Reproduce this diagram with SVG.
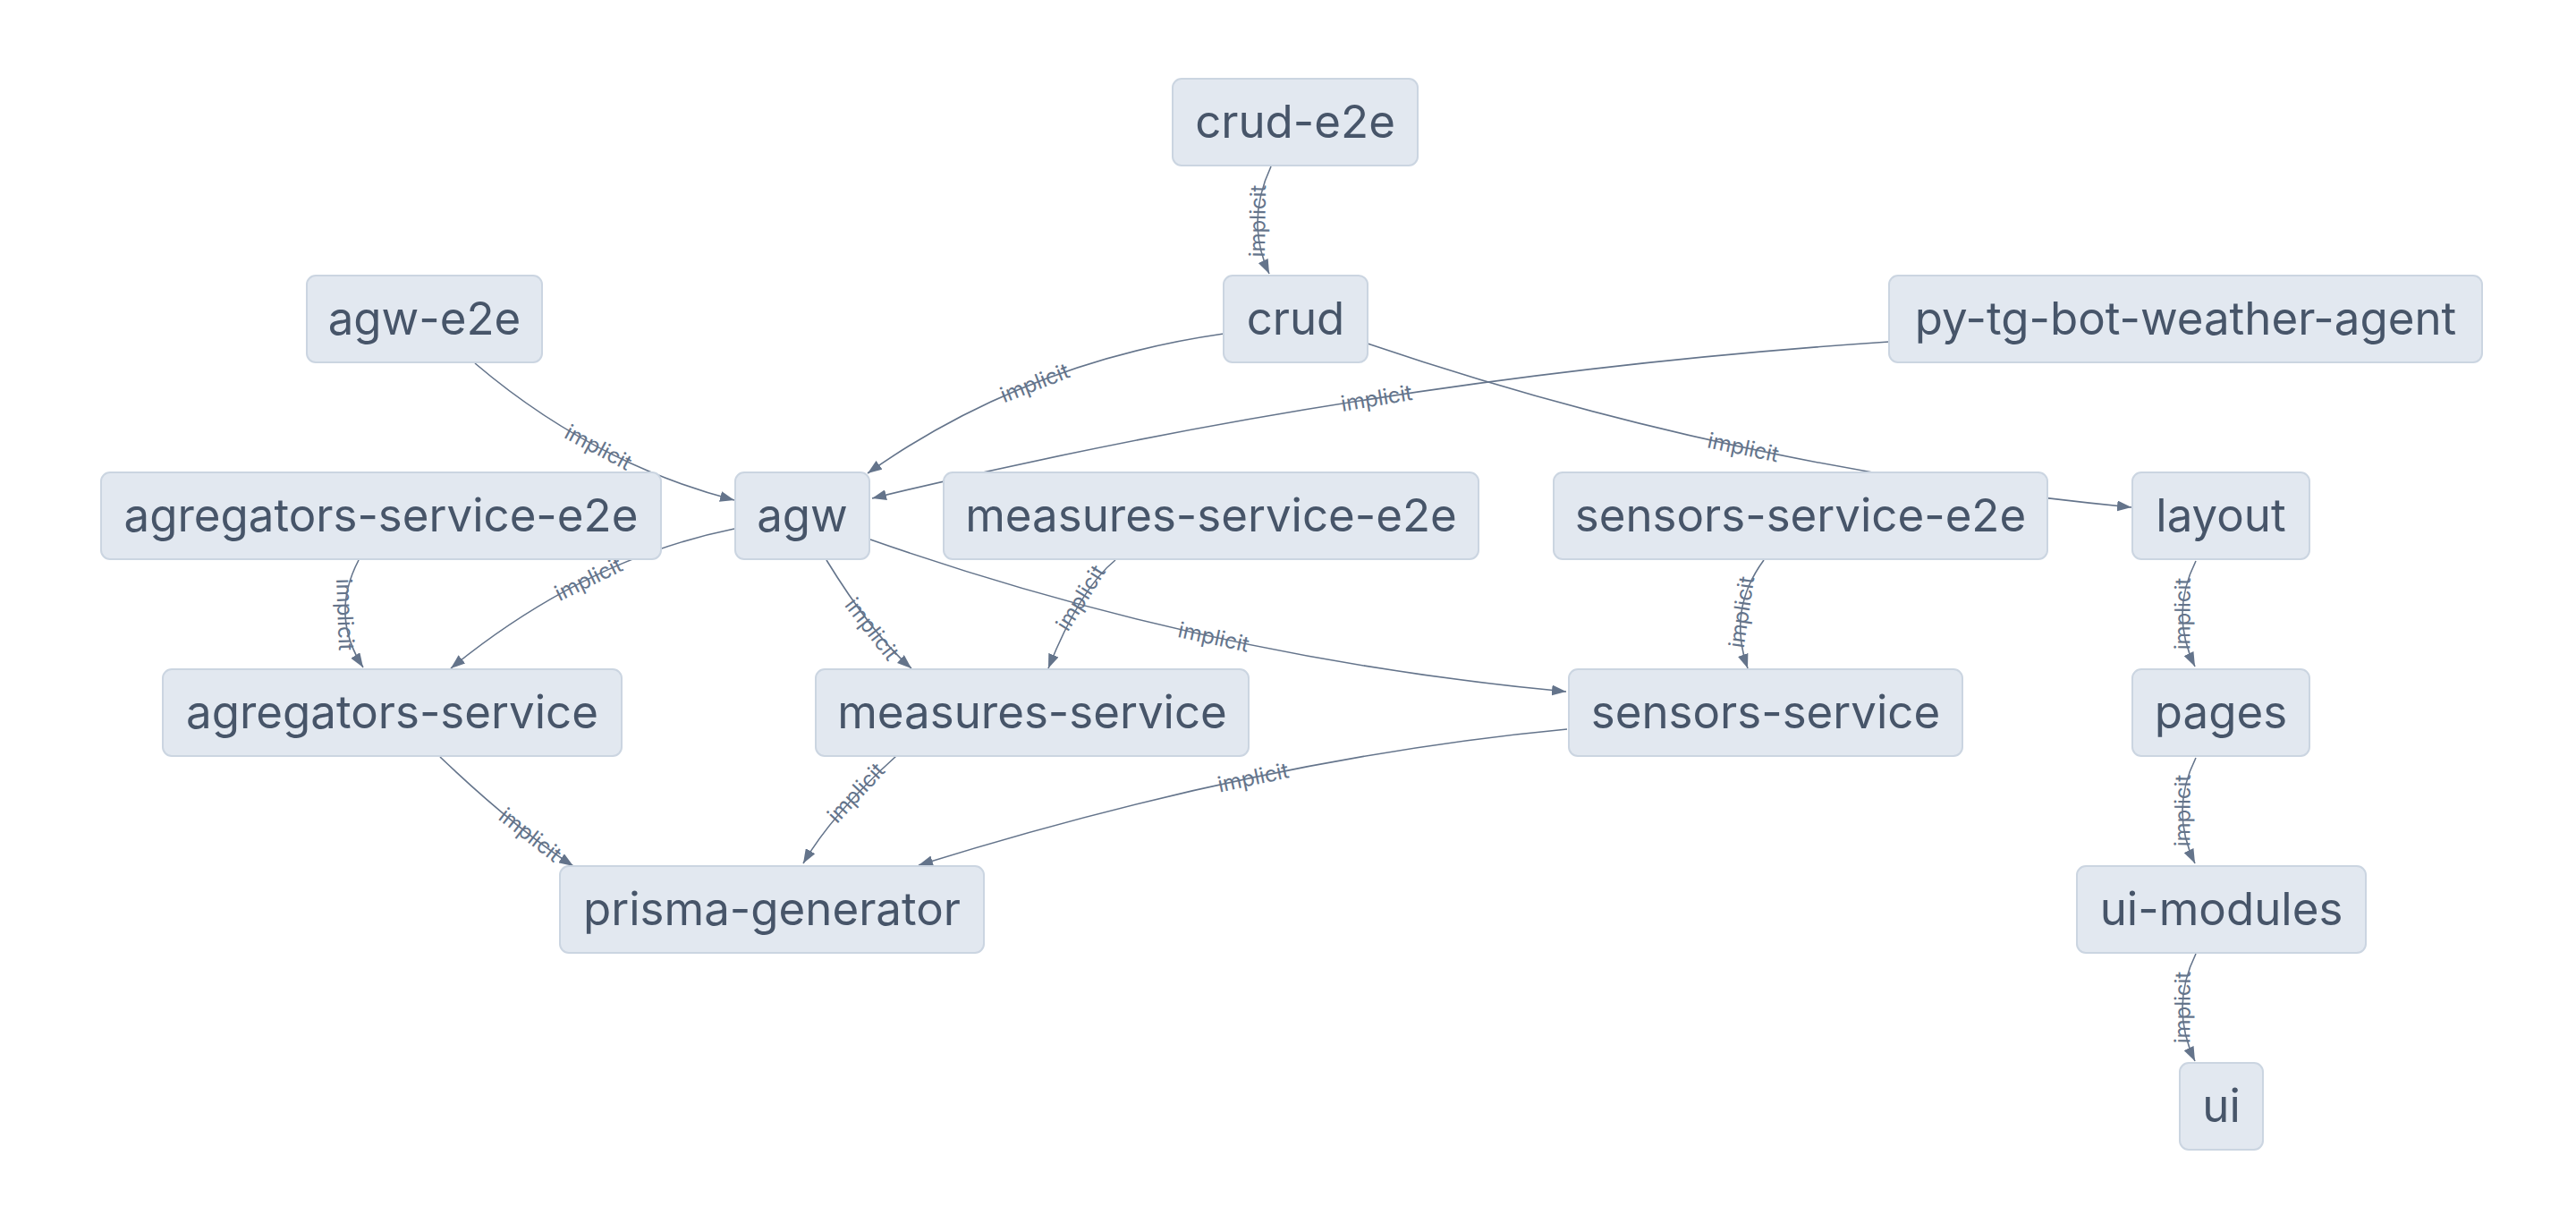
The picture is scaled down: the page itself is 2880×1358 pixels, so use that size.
<svg xmlns="http://www.w3.org/2000/svg" width="2880" height="1358" viewBox="0 0 2880 1358">
<style>
.bg{fill:#ffffff}
.node rect{fill:#e2e8f0;stroke:#cbd5e1;stroke-width:2}
.node text{font-family:Inter,"Noto Sans",sans-serif;font-size:51px;fill:#475569;text-anchor:middle}
.edge{fill:none;stroke:#64748b;stroke-width:1.6;marker-end:url(#arrow)}
.elabel{font-family:Inter,"Noto Sans",sans-serif;font-size:24px;fill:#64748b;text-anchor:middle;dominant-baseline:central}
</style>
<defs>
<marker id="arrow" markerUnits="userSpaceOnUse" markerWidth="16" markerHeight="12" refX="16" refY="6" orient="auto">
<path d="M0,0 L16,6 L0,12 z" fill="#64748b"/>
</marker>
</defs>
<rect class="bg" x="0" y="0" width="2880" height="1358"/>
<g id="connectors">
<path class="edge" d="M1421,186 Q1392,248 1419,306"/>
<text class="elabel" transform="translate(1406,247) rotate(-89)">implicit</text>
<path class="edge" d="M531,406 Q662,517.5 821,559"/>
<text class="elabel" transform="translate(669,500) rotate(27.8)">implicit</text>
<path class="edge" d="M1368,373 Q1145,405 970,529"/>
<text class="elabel" transform="translate(1157,428) rotate(-21.4)">implicit</text>
<path class="edge" d="M2112,382 Q1534.5,420.5 975,557"/>
<text class="elabel" transform="translate(1539,445) rotate(-9.5)">implicit</text>
<path class="edge" d="M1529,384 Q1942,524.5 2383,567"/>
<text class="elabel" transform="translate(1949,500) rotate(12)">implicit</text>
<path class="edge" d="M973,603 Q1352,736 1751,773"/>
<text class="elabel" transform="translate(1357,712) rotate(12.3)">implicit</text>
<path class="edge" d="M821,591 Q653.5,625 504,747"/>
<text class="elabel" transform="translate(658,647) rotate(-26)">implicit</text>
<path class="edge" d="M401,626 Q368.5,688 406,746"/>
<text class="elabel" transform="translate(386,687) rotate(88)">implicit</text>
<path class="edge" d="M924,626 Q975,709 1019,747"/>
<text class="elabel" transform="translate(975,703) rotate(52)">implicit</text>
<path class="edge" d="M1247,626 Q1207.6,657.5 1172,747"/>
<text class="elabel" transform="translate(1208,668) rotate(-58)">implicit</text>
<path class="edge" d="M492,846 Q575,925 641,968"/>
<text class="elabel" transform="translate(593,933) rotate(38)">implicit</text>
<path class="edge" d="M1002,845 Q930,910 898,965"/>
<text class="elabel" transform="translate(957,886) rotate(-47)">implicit</text>
<path class="edge" d="M1752,815 Q1412.5,847 1027,967"/>
<text class="elabel" transform="translate(1401,869) rotate(-12)">implicit</text>
<path class="edge" d="M1972,626 Q1931,681.5 1954,747"/>
<text class="elabel" transform="translate(1947,684) rotate(-81.5)">implicit</text>
<path class="edge" d="M2455,627 Q2425.5,686 2454,745"/>
<text class="elabel" transform="translate(2440,686) rotate(-89.5)">implicit</text>
<path class="edge" d="M2455,847 Q2425.5,906 2454,965"/>
<text class="elabel" transform="translate(2440,906) rotate(-89.5)">implicit</text>
<path class="edge" d="M2455,1066 Q2425.5,1126 2454,1186"/>
<text class="elabel" transform="translate(2440,1126) rotate(-89.5)">implicit</text>
</g>
<g id="node-crud-e2e" class="node"><rect x="1311" y="88" width="274" height="97" rx="10"/><text x="1448" y="154">crud-e2e</text></g>
<g id="node-crud" class="node"><rect x="1368" y="308" width="161" height="97" rx="10"/><text x="1448.5" y="374">crud</text></g>
<g id="node-agw-e2e" class="node"><rect x="343" y="308" width="263" height="97" rx="10"/><text x="474.5" y="374">agw-e2e</text></g>
<g id="node-py-tg-bot-weather-agent" class="node"><rect x="2112" y="308" width="663" height="97" rx="10"/><text x="2443.5" y="374">py-tg-bot-weather-agent</text></g>
<g id="node-agregators-service-e2e" class="node"><rect x="113" y="528" width="626" height="97" rx="10"/><text x="426" y="594">agregators-service-e2e</text></g>
<g id="node-agw" class="node"><rect x="822" y="528" width="150" height="97" rx="10"/><text x="897" y="594">agw</text></g>
<g id="node-measures-service-e2e" class="node"><rect x="1055" y="528" width="598" height="97" rx="10"/><text x="1354" y="594">measures-service-e2e</text></g>
<g id="node-sensors-service-e2e" class="node"><rect x="1737" y="528" width="552" height="97" rx="10"/><text x="2013" y="594">sensors-service-e2e</text></g>
<g id="node-layout" class="node"><rect x="2384" y="528" width="198" height="97" rx="10"/><text x="2483" y="594">layout</text></g>
<g id="node-agregators-service" class="node"><rect x="182" y="748" width="513" height="97" rx="10"/><text x="438.5" y="814">agregators-service</text></g>
<g id="node-measures-service" class="node"><rect x="912" y="748" width="484" height="97" rx="10"/><text x="1154" y="814">measures-service</text></g>
<g id="node-sensors-service" class="node"><rect x="1754" y="748" width="440" height="97" rx="10"/><text x="1974" y="814">sensors-service</text></g>
<g id="node-pages" class="node"><rect x="2384" y="748" width="198" height="97" rx="10"/><text x="2483" y="814">pages</text></g>
<g id="node-prisma-generator" class="node"><rect x="626" y="968" width="474" height="97" rx="10"/><text x="863" y="1034">prisma-generator</text></g>
<g id="node-ui-modules" class="node"><rect x="2322" y="968" width="323" height="97" rx="10"/><text x="2483.5" y="1034">ui-modules</text></g>
<g id="node-ui" class="node"><rect x="2437" y="1188" width="93" height="97" rx="10"/><text x="2483.5" y="1254">ui</text></g>
</svg>
